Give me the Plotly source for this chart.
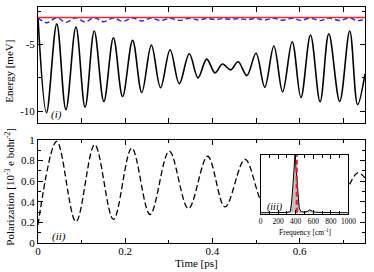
import plotly.graph_objects as go

# ---------------- data ----------------
# Panel (i): energy, black solid curve (extrema), blue dashed, red constant
energy_t = [0.0, 0.0195, 0.043, 0.064, 0.087, 0.108, 0.129, 0.151, 0.173, 0.194,
            0.217, 0.238, 0.26, 0.281, 0.303, 0.324, 0.347, 0.367, 0.387, 0.406,
            0.423, 0.442, 0.459, 0.479, 0.5, 0.52, 0.541, 0.561, 0.583, 0.603,
            0.625, 0.647, 0.667, 0.692, 0.715, 0.733, 0.75]
energy_total = [-2.99, -10.1, -3.46, -9.88, -3.7, -9.7, -4.0, -9.26, -4.5, -8.9,
                -4.7, -8.6, -5.05, -8.24, -5.4, -7.94, -5.7, -7.5, -6.1, -7.13,
                -6.47, -6.9, -6.3, -7.33, -5.66, -8.2, -5.12, -8.55, -4.8, -8.97,
                -4.3, -9.29, -4.2, -9.26, -4.0, -9.5, -7.2]
energy_blue = [-3.0, -3.38, -3.0, -3.35, -3.0, -3.32, -3.0, -3.3, -3.02, -3.27,
               -3.02, -3.25, -3.03, -3.22, -3.04, -3.2, -3.05, -3.17, -3.06, -3.14,
               -3.07, -3.12, -3.07, -3.14, -3.06, -3.17, -3.05, -3.19, -3.04, -3.2,
               -3.03, -3.22, -3.02, -3.21, -3.02, -3.22, -3.1]
red_t = [0.0, 0.75]
red_level = [-2.99, -2.99]

# Panel (ii): polarization (extrema)
pol_t = [0.0, 0.043, 0.087, 0.13, 0.173, 0.215, 0.257, 0.301, 0.345, 0.389,
         0.429, 0.475, 0.518, 0.561, 0.604, 0.647, 0.69, 0.733, 0.75]
pol_val = [0.175, 0.984, 0.206, 0.952, 0.228, 0.92, 0.276, 0.889, 0.333, 0.84,
           0.349, 0.81, 0.38, 0.77, 0.40, 0.72, 0.42, 0.68, 0.63]

# Panel (iii): spectrum inset
freq = [0, 100, 200, 300, 340, 355, 370, 392, 405, 420, 440, 460, 500, 530,
        560, 590, 620, 700, 800, 900, 1000]
spec = [0, 0, 0, 0.004, 0.02, 0.2, 0.5, 1.0, 0.75, 0.4, 0.08, 0.02, 0.01, 0.02,
        0.05, 0.025, 0.01, 0.005, 0.0, 0.0, 0.0]
ref_freq = [412, 412]
ref_amp = [0.0, 1.0]

x_ticks_bottom = [0, 0.2, 0.4, 0.6]
x_ticklabels_bottom = ["0", "0.2", "0.4", "0.6"]
y_ticks_top = [-10, -5]
y_ticklabels_top = ["-10", "-5"]
y_ticks_bottom = [0, 0.2, 0.4, 0.6, 0.8, 1.0]
y_ticklabels_bottom = ["0", "0.2", "0.4", "0.6", "0.8", "1"]
inset_ticks = [0, 200, 400, 600, 800, 1000]
inset_ticklabels = ["0", "200", "400", "600", "800", "1000"]

# ---------------- figure ----------------
FONT = "Liberation Serif"
W, H = 374, 272
ML, MR, MT, MB = 38, 1, 3, 29
PW, PH = W - ML - MR, H - MT - MB


def px(x):
    return (x - ML) / PW


def py(y):
    return (H - MB - y) / PH


fig = go.Figure()

fig.add_trace(go.Scatter(x=energy_t, y=energy_total, mode="lines",
                         line=dict(color="black", width=1.6, shape="spline", smoothing=1.0),
                         xaxis="x", yaxis="y", showlegend=False))
fig.add_trace(go.Scatter(x=energy_t, y=energy_blue, mode="lines",
                         line=dict(color="#1f1fff", width=1.4, dash="5px,3px",
                                   shape="spline", smoothing=1.0),
                         xaxis="x", yaxis="y", showlegend=False))
fig.add_trace(go.Scatter(x=red_t, y=red_level, mode="lines",
                         line=dict(color="#ff2020", width=1.4),
                         xaxis="x", yaxis="y", showlegend=False))

fig.add_trace(go.Scatter(x=pol_t, y=pol_val, mode="lines",
                         line=dict(color="black", width=1.3, dash="6px,3px",
                                   shape="spline", smoothing=1.0),
                         xaxis="x2", yaxis="y2", showlegend=False))

fig.add_trace(go.Scatter(x=freq, y=spec, mode="lines", fill="tozeroy",
                         fillcolor="#c4c4c4",
                         line=dict(color="black", width=1.0),
                         xaxis="x3", yaxis="y3", showlegend=False))
fig.add_trace(go.Scatter(x=ref_freq, y=ref_amp, mode="lines",
                         line=dict(color="#ff1a1a", width=2.2, dash="5px,3px"),
                         xaxis="x3", yaxis="y3", showlegend=False))

tickfont = dict(family=FONT, size=11, color="black")
common = dict(showline=True, linecolor="black", linewidth=1, mirror="allticks",
              ticks="inside", tickcolor="black", ticklen=5, tickwidth=1,
              showgrid=False, zeroline=False)

inset_y0, inset_y1 = -0.03, 1.0

fig.update_layout(
    width=W, height=H,
    margin=dict(l=ML, r=MR, t=MT, b=MB),
    paper_bgcolor="white", plot_bgcolor="white",
    font=dict(family=FONT, size=11, color="black"),
    xaxis=dict(domain=[0, 1], range=[0, 0.75], anchor="y", dtick=0.1, tick0=0,
               showticklabels=False, **common),
    yaxis=dict(domain=[py(121), 1], range=[-10.88, -2.2], anchor="x",
               tickvals=y_ticks_top, ticktext=y_ticklabels_top, tickfont=tickfont,
               minor=dict(tickvals=[-2.5, -7.5], ticks="inside", ticklen=3,
                          tickcolor="black"),
               **common),
    xaxis2=dict(domain=[0, 1], range=[0, 0.75], anchor="y2",
                tickvals=x_ticks_bottom, ticktext=x_ticklabels_bottom, tickfont=tickfont,
                ticklabelstandoff=-2,
                minor=dict(tickvals=[0.1, 0.3, 0.5, 0.7], ticks="inside", ticklen=3,
                           tickcolor="black"),
                **common),
    yaxis2=dict(domain=[0, py(138)], range=[0, 1], anchor="x2",
                tickvals=y_ticks_bottom, ticktext=y_ticklabels_bottom, tickfont=tickfont,
                minor=dict(tickvals=[0.1, 0.3, 0.5, 0.7, 0.9], ticks="inside",
                           ticklen=3, tickcolor="black"),
                **common),
    xaxis3=dict(domain=[px(266), px(356)], range=[0, 1000], anchor="y3",
                tickvals=inset_ticks, ticktext=inset_ticklabels,
                tickfont=dict(family=FONT, size=7.5, color="black"),
                minor=dict(tickvals=[100, 300, 500, 700, 900], ticks="inside",
                           ticklen=3, tickcolor="black"),
                showline=True, linecolor="black", linewidth=1, mirror="allticks",
                ticks="inside", tickcolor="black", ticklen=4, showgrid=False,
                zeroline=False),
    yaxis3=dict(domain=[py(214), py(153)], range=[inset_y0, inset_y1], anchor="x3",
                showline=True, linecolor="black", linewidth=1, mirror=True,
                ticks="", showticklabels=False, showgrid=False, zeroline=False),
    shapes=[dict(type="rect", xref="x3", yref="y3", x0=0, x1=1000,
                 y0=inset_y0, y1=inset_y1, fillcolor="white",
                 line=dict(width=0), layer="below")],
)

annos = [
    dict(text="Energy [meV]", x=px(8), y=py(68), textangle=-90, size=11),
    dict(text="Polarization [10<sup>-3</sup> e bohr<sup>-2</sup>]", x=px(9), y=py(186),
         textangle=-90, size=11),
    dict(text="Time [ps]", x=px(200), y=py(263), textangle=0, size=11),
    dict(text="<i>(i)</i>", x=px(57), y=py(112), textangle=0, size=11),
    dict(text="<i>(ii)</i>", x=px(60), y=py(236), textangle=0, size=11),
    dict(text="<i>(iii)</i>", x=px(281), y=py(206), textangle=0, size=10),
    dict(text="Frequency [cm<sup>-1</sup>]", x=px(312), y=py(232), textangle=0,
         size=7.5),
]
for a in annos:
    fig.add_annotation(text=a["text"], x=a["x"], y=a["y"], xref="paper", yref="paper",
                       showarrow=False, textangle=a["textangle"],
                       xanchor="center", yanchor="middle",
                       font=dict(family=FONT, size=a["size"], color="black"))

fig.write_html("out.html", config={"displayModeBar": False},
               post_script="document.body.style.margin='0';document.body.style.padding='0';")
